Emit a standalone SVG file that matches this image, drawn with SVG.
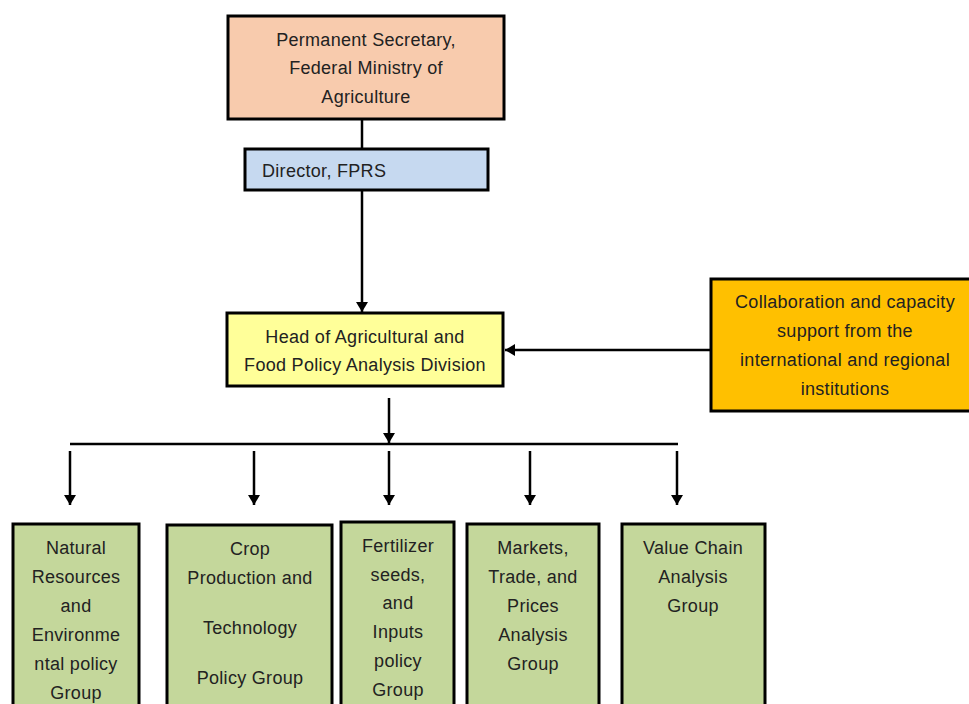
<svg xmlns="http://www.w3.org/2000/svg" width="969" height="704" viewBox="0 0 969 704">
<defs>
<marker id="ah" markerWidth="10" markerHeight="12" refX="10" refY="6" orient="auto" markerUnits="userSpaceOnUse">
<path d="M0,0 L10,6 L0,12 z" fill="#000"/>
</marker>
<style>
.box{stroke:#000;stroke-width:3}
.t{font-family:"Liberation Sans",Arial,sans-serif;font-size:18px;letter-spacing:0.3px;fill:#222;text-anchor:middle}
.c{stroke:#000;stroke-width:2.5;fill:none}
</style>
</defs>
<rect width="969" height="704" fill="#fff"/>
<g id="connectors">
<line class="c" x1="362" y1="119" x2="362" y2="149"/>
<line class="c" x1="362" y1="190" x2="362" y2="312" marker-end="url(#ah)"/>
<line class="c" x1="710" y1="350" x2="505" y2="350" marker-end="url(#ah)"/>
<line class="c" x1="389" y1="398" x2="389" y2="443" marker-end="url(#ah)"/>
<line class="c" x1="70" y1="444" x2="678" y2="444"/>
<line class="c" x1="70" y1="451" x2="70" y2="505" marker-end="url(#ah)"/>
<line class="c" x1="254" y1="451" x2="254" y2="505" marker-end="url(#ah)"/>
<line class="c" x1="389" y1="451" x2="389" y2="505" marker-end="url(#ah)"/>
<line class="c" x1="530" y1="451" x2="530" y2="505" marker-end="url(#ah)"/>
<line class="c" x1="677" y1="451" x2="677" y2="505" marker-end="url(#ah)"/>
</g>
<g id="perm">
<rect class="box" x="228" y="16" width="276" height="103" fill="#f8cbad"/>
<text class="t" x="366" y="46">Permanent Secretary,</text>
<text class="t" x="366" y="74">Federal Ministry of</text>
<text class="t" x="366" y="103">Agriculture</text>
</g>
<g id="director">
<rect class="box" x="245" y="149" width="243" height="41" fill="#c6d9f0"/>
<text class="t" x="262" y="177" style="text-anchor:start">Director, FPRS</text>
</g>
<g id="head">
<rect class="box" x="227" y="313" width="276" height="73" fill="#ffff99"/>
<text class="t" x="365" y="343">Head of Agricultural and</text>
<text class="t" x="365" y="371">Food Policy Analysis Division</text>
</g>
<g id="collab">
<rect class="box" x="711" y="279" width="262" height="132" fill="#ffc000"/>
<text class="t" x="845" y="308">Collaboration and capacity</text>
<text class="t" x="845" y="337">support from the</text>
<text class="t" x="845" y="366">international and regional</text>
<text class="t" x="845" y="395">institutions</text>
</g>
<g id="natural">
<rect class="box" x="13" y="524" width="126" height="190" fill="#c4d79b"/>
<text class="t" x="76" y="554">Natural</text>
<text class="t" x="76" y="583">Resources</text>
<text class="t" x="76" y="612">and</text>
<text class="t" x="76" y="641">Environme</text>
<text class="t" x="76" y="670">ntal policy</text>
<text class="t" x="76" y="699">Group</text>
</g>
<g id="crop">
<rect class="box" x="167" y="525" width="165" height="190" fill="#c4d79b"/>
<text class="t" x="250" y="555">Crop</text>
<text class="t" x="250" y="584">Production and</text>
<text class="t" x="250" y="634">Technology</text>
<text class="t" x="250" y="684">Policy Group</text>
</g>
<g id="fertilizer">
<rect class="box" x="341" y="522" width="113" height="192" fill="#c4d79b"/>
<text class="t" x="398" y="552">Fertilizer</text>
<text class="t" x="398" y="581">seeds,</text>
<text class="t" x="398" y="609">and</text>
<text class="t" x="398" y="638">Inputs</text>
<text class="t" x="398" y="667">policy</text>
<text class="t" x="398" y="696">Group</text>
</g>
<g id="markets">
<rect class="box" x="467" y="524" width="132" height="190" fill="#c4d79b"/>
<text class="t" x="533" y="554">Markets,</text>
<text class="t" x="533" y="583">Trade, and</text>
<text class="t" x="533" y="612">Prices</text>
<text class="t" x="533" y="641">Analysis</text>
<text class="t" x="533" y="670">Group</text>
</g>
<g id="valuechain">
<rect class="box" x="622" y="524" width="143" height="190" fill="#c4d79b"/>
<text class="t" x="693" y="554">Value Chain</text>
<text class="t" x="693" y="583">Analysis</text>
<text class="t" x="693" y="612">Group</text>
</g>
</svg>
